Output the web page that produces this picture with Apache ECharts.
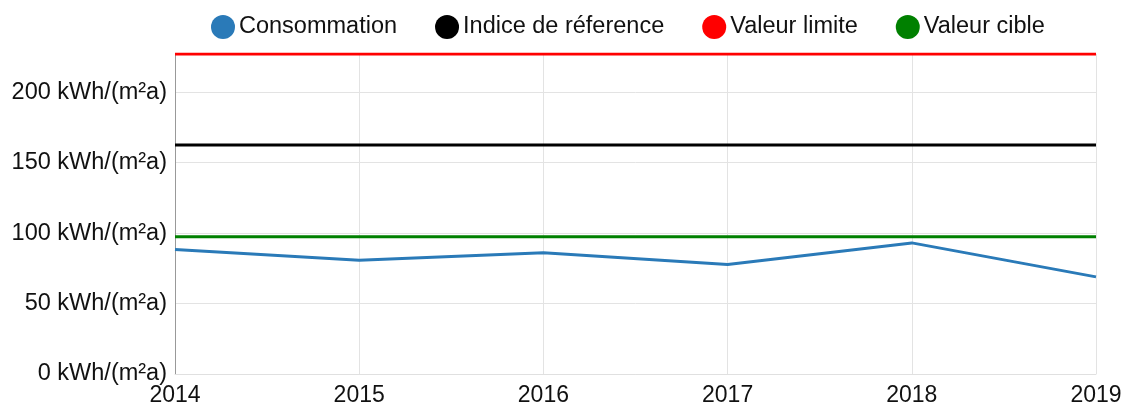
<!DOCTYPE html>
<html>
<head>
<meta charset="utf-8">
<script src="https://cdn.jsdelivr.net/npm/echarts@6/dist/echarts.min.js"></script>
<style>
  html, body { margin: 0; padding: 0; background: #fff; }
  #chart { width: 1125px; height: 410px; }
</style>
</head>
<body>
<div id="chart"></div>
<script>
  // années et valeurs
  const years = ['2014', '2015', '2016', '2017', '2018', '2019'];
  const consommation = [88.3, 80.7, 86, 77.6, 93, 68.9];
  const indiceReference = [162.5, 162.5, 162.5, 162.5, 162.5, 162.5];
  const valeurLimite = [227, 227, 227, 227, 227, 227];
  const valeurCible = [97.3, 97.3, 97.3, 97.3, 97.3, 97.3];
  const unit = ' kWh/(m²a)';

  const font = 'Liberation Sans, Arial, sans-serif';
  const chart = echarts.init(document.getElementById('chart'));

  function lineSerie(name, data, color) {
    return {
      name: name,
      type: 'line',
      data: data,
      showSymbol: false,
      symbol: 'circle',
      lineStyle: { color: color, width: 3 },
      itemStyle: { color: color },
      animation: false
    };
  }

  chart.setOption({
    backgroundColor: '#fff',
    legend: {
      top: 10,
      left: 206,
      icon: 'circle',
      itemWidth: 24,
      itemHeight: 24,
      itemGap: 38,
      textStyle: { fontFamily: font, fontSize: 23.5, color: '#111', padding: [0, 0, 0, -1] },
      data: ['Consommation', 'Indice de réference', 'Valeur limite', 'Valeur cible']
    },
    grid: { left: 175, right: 29, top: 54, bottom: 36 },
    xAxis: {
      type: 'category',
      data: years,
      boundaryGap: false,
      axisLine: { lineStyle: { color: '#e0e0e0', width: 1 } },
      axisTick: { show: false },
      axisLabel: { fontFamily: font, fontSize: 23, color: '#111', margin: 10 },
      splitLine: { show: true, lineStyle: { color: '#e3e3e3', width: 1 } }
    },
    yAxis: {
      type: 'value',
      min: 0,
      max: 227,
      interval: 50,
      axisLine: { show: true, lineStyle: { color: '#999', width: 1 } },
      axisTick: { show: false },
      axisLabel: {
        fontFamily: font, fontSize: 23.5, color: '#111', margin: 8,
        showMaxLabel: false,
        formatter: v => v + unit
      },
      splitLine: { show: true, lineStyle: { color: '#e3e3e3', width: 1 } }
    },
    series: [
      lineSerie('Consommation', consommation, '#2a7ab8'),
      lineSerie('Indice de réference', indiceReference, '#000000'),
      lineSerie('Valeur limite', valeurLimite, '#ff0000'),
      lineSerie('Valeur cible', valeurCible, '#008000')
    ]
  });
</script>
</body>
</html>
